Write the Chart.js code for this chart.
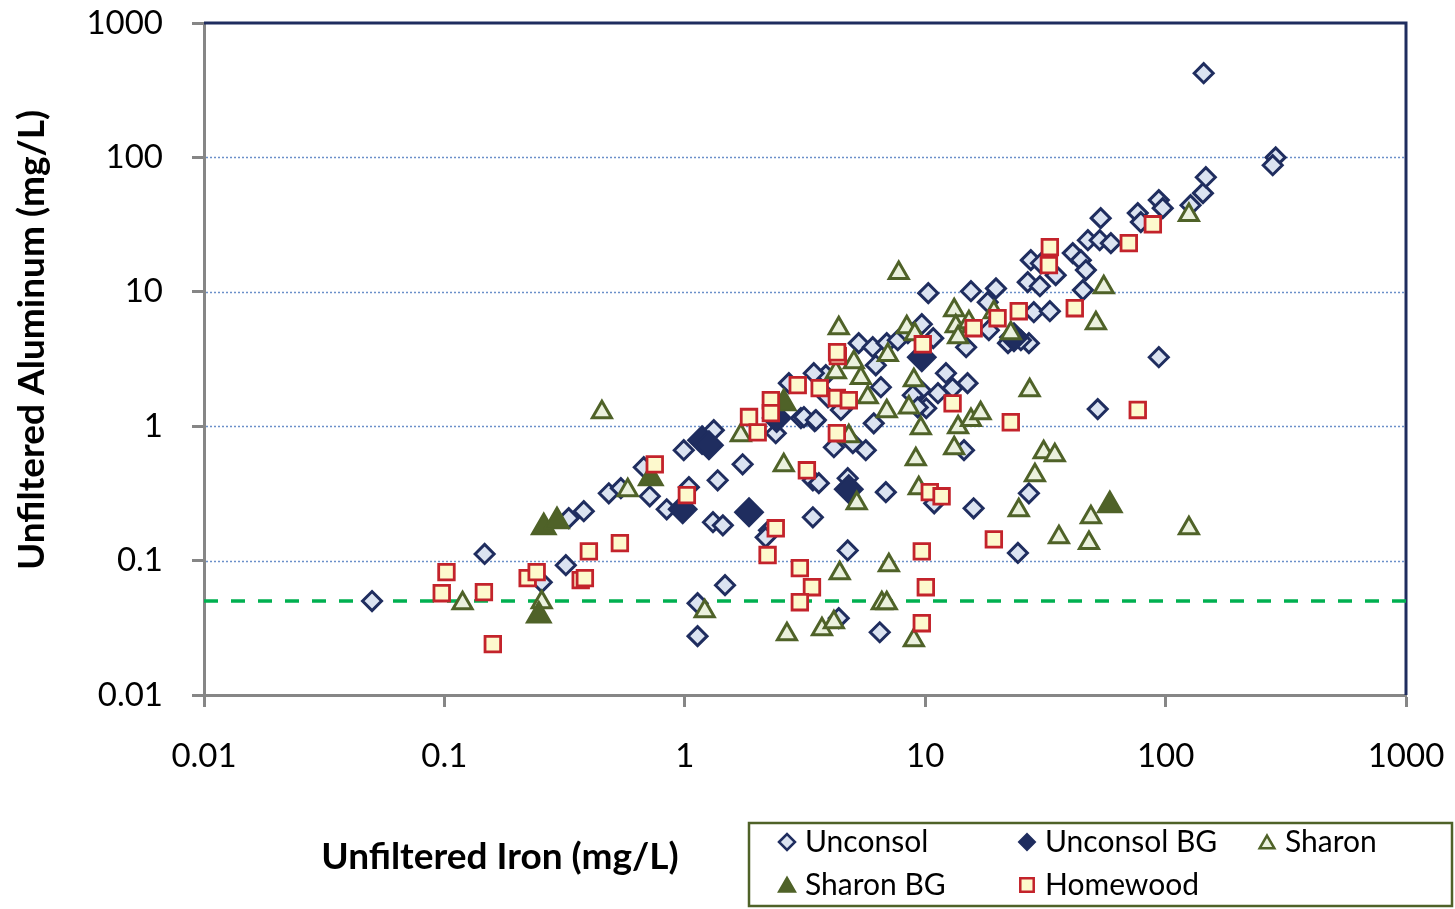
<!DOCTYPE html>
<html>
<head>
<meta charset="utf-8">
<script src="https://cdn.jsdelivr.net/npm/chart.js@4.4.1/dist/chart.umd.min.js"></script>
<style>
  html, body { margin: 0; padding: 0; background: #ffffff; }
  #wrap { width: 1455px; height: 909px; position: relative; }
</style>
</head>
<body>
<div id="wrap"><canvas id="c" width="1455" height="909"></canvas></div>
<script>
// ---------------- DATA (Unfiltered Iron mg/L, Unfiltered Aluminum mg/L) ----------------
const seriesNames = ['Unconsol', 'Unconsol BG', 'Sharon', 'Sharon BG', 'Homewood'];

const unconsol = [
  [0.050,0.050],[0.147,0.112],[0.254,0.069],[0.320,0.0924],[0.329,0.207],[0.380,0.233],
  [0.483,0.317],[0.542,0.346],[0.675,0.495],[0.715,0.301],[0.841,0.241],[0.99,0.663],
  [1.04,0.352],[1.13,0.0482],[1.13,0.0274],[1.47,0.0656],[1.32,0.934],[1.37,0.396],
  [1.74,0.521],[1.31,0.193],[1.44,0.183],[2.24,0.168],[2.17,0.149],[2.39,0.887],
  [2.71,2.09],[3.04,1.15],[3.47,1.09],[3.41,0.396],[3.61,0.377],[3.41,0.210],
  [4.76,0.410],[4.76,0.119],[4.37,0.0373],[6.47,0.0293],[6.86,0.323],[4.17,0.698],
  [5.00,0.748],[5.66,0.663],[4.54,1.36],[3.86,2.40],[3.94,1.64],[3.13,1.17],
  [3.51,1.11],[4.46,1.32],[5.29,4.15],[6.05,3.87],[6.92,4.15],[7.69,4.36],
  [8.47,4.92],[6.23,2.84],[6.54,1.95],[6.11,1.05],[9.68,5.74],[10.8,4.52],
  [10.3,9.77],[12.2,2.48],[9.59,1.85],[11.3,1.76],[13.0,1.92],[10.1,1.36],
  [8.88,1.70],[15.0,2.09],[9.31,1.38],[14.5,0.663],[10.9,0.267],[15.9,0.245],
  [27.0,0.317],[24.3,0.114],[15.5,10.1],[19.7,10.6],[18.2,8.37],[18.4,5.18],
  [22.1,4.15],[27.0,4.15],[14.8,3.87],[27.5,17.2],[30.3,16.3],[34.9,13.3],
  [26.7,11.8],[30.0,11.0],[28.3,7.05],[33.0,7.17],[41.1,19.4],[44.4,17.2],
  [46.6,14.5],[45.3,10.3],[47.5,24.2],[53.2,24.2],[59.2,23.0],[53.7,35.3],
  [76.6,38.5],[78.9,33.0],[93.7,48.1],[97.3,41.9],[127,44.1],[143,54.2],
  [147,71.2],[144,423],[287,100],[279,87.5],[93.7,3.26],[52.2,1.34],
  [25.0,4.36],[3.44,2.48]
];

const unconsolBG = [
  [1.18,0.787],[1.26,0.722],[0.98,0.241],[1.85,0.229],[4.81,0.34],[2.41,1.15],
  [9.68,3.26],[23.4,4.59]
];

const sharon = [
  [0.119,0.0482],[0.254,0.049],[0.452,1.27],[0.579,0.334],[1.21,0.042],[1.71,0.857],
  [2.58,0.513],[2.66,0.0283],[3.72,0.0309],[4.17,0.0348],[4.41,0.0806],[4.37,5.36],
  [4.25,2.52],[5.05,2.99],[5.40,2.28],[5.77,1.64],[4.81,0.843],[5.19,0.267],
  [6.60,0.0482],[6.92,0.0482],[7.06,0.0924],[6.99,3.38],[6.92,1.29],[7.76,13.8],
  [8.38,5.45],[9.05,4.84],[8.97,2.20],[8.55,1.38],[8.97,0.0256],[9.14,0.568],
  [9.40,0.346],[9.59,0.966],[13.2,7.30],[13.4,5.55],[13.7,4.59],[15.2,5.94],
  [13.7,0.983],[15.5,1.11],[17.0,1.25],[13.2,0.686],[19.3,7.05],[22.7,4.92],
  [27.2,1.85],[31.1,0.641],[34.6,0.608],[28.6,0.432],[24.5,0.237],[36.0,0.149],
  [48.9,0.210],[48.0,0.135],[51.3,5.84],[55.3,10.8],[125,37.2],[125,0.174]
];

const sharonBG = [
  [0.259,0.177],[0.294,0.196],[0.722,0.41],[0.247,0.039],[2.58,1.48],[58.6,0.258]
];

const homewood = [
  [0.102,0.082],[0.0975,0.0572],[0.146,0.0582],[0.159,0.0239],[0.222,0.074],[0.242,0.082],
  [0.369,0.0715],[0.384,0.074],[0.399,0.117],[0.537,0.135],[0.75,0.52],[1.02,0.307],
  [1.85,1.17],[2.01,0.90],[2.28,1.56],[2.28,1.25],[2.39,0.174],[2.21,0.110],
  [2.95,2.02],[3.01,0.0878],[3.38,0.0634],[3.01,0.049],[3.22,0.47],[3.64,1.92],
  [4.29,1.62],[4.33,3.32],[4.30,3.55],[4.81,1.56],[4.29,0.887],[9.68,0.117],
  [10.06,0.0634],[9.68,0.0342],[9.77,4.07],[10.45,0.323],[11.7,0.301],[13.0,1.48],
  [15.9,5.36],[20.0,6.36],[24.5,7.17],[19.3,0.144],[22.7,1.07],[32.7,15.8],
  [33.0,21.5],[41.9,7.55],[70.3,23.0],[88.5,31.8],[76.6,1.32]
];

const thresholdLine = [[0.01,0.05],[1000,0.05]];

const xTickValues = [0.01, 0.1, 1, 10, 100, 1000];
const xTickLabels = ['0.01', '0.1', '1', '10', '100', '1000'];
const yTickValues = [0.01, 0.1, 1, 10, 100, 1000];
const yTickLabels = ['0.01', '0.1', '1', '10', '100', '1000'];

const xTitle = 'Unfiltered Iron (mg/L)';
const yTitle = 'Unfiltered Aluminum (mg/L)';

// ---------------- STYLES ----------------
const NAVY = '#1f2d5f';
const OLIVE = '#4f6228';
const RED = '#c3232b';
const FONT = 'Lato, "Open Sans", "DejaVu Sans", sans-serif';

const styles = [
  { pointStyle: 'rectRot', radius: 9.5, bg: '#dbe3f1', border: NAVY, bw: 3 },
  { pointStyle: 'rectRot', radius: 14, bg: NAVY, border: NAVY, bw: 2 },
  { pointStyle: 'triangle', radius: 11, bg: '#ebf1de', border: OLIVE, bw: 3 },
  { pointStyle: 'triangle', radius: 14, bg: OLIVE, border: OLIVE, bw: 2 },
  { pointStyle: 'rect', radius: 11, bg: '#fdf9cd', border: RED, bw: 2.8 }
];

const toXY = arr => arr.map(p => ({ x: p[0], y: p[1] }));
const seriesData = [unconsol, unconsolBG, sharon, sharonBG, homewood];
const drawOrder = [5, 4, 3, 2, 1];

const datasets = seriesData.map((d, i) => ({
  label: seriesNames[i],
  data: toXY(d),
  pointStyle: styles[i].pointStyle,
  pointRadius: styles[i].radius,
  pointHoverRadius: styles[i].radius,
  pointBackgroundColor: styles[i].bg,
  pointBorderColor: styles[i].border,
  pointBorderWidth: styles[i].bw,
  backgroundColor: styles[i].bg,
  borderColor: styles[i].border,
  showLine: false,
  order: drawOrder[i]
}));

datasets.push({
  type: 'line',
  label: 'threshold',
  data: toXY(thresholdLine),
  borderColor: '#00b050',
  borderWidth: 3.5,
  borderDash: [14, 13],
  pointRadius: 0,
  showLine: true,
  fill: false,
  order: 10
});

// ---------------- PLUGIN (gridlines, frame, titles, legend) ----------------
function drawMarker(ctx, st, x, y, r) {
  ctx.save();
  ctx.fillStyle = st.bg;
  ctx.strokeStyle = st.border;
  ctx.lineWidth = Math.min(st.bw, 2.5);
  ctx.beginPath();
  if (st.pointStyle === 'rectRot') {
    ctx.moveTo(x - r, y); ctx.lineTo(x, y - r); ctx.lineTo(x + r, y); ctx.lineTo(x, y + r);
  } else if (st.pointStyle === 'triangle') {
    const h = r * Math.sqrt(3) / 2;
    ctx.moveTo(x, y - r); ctx.lineTo(x + h, y + r / 2); ctx.lineTo(x - h, y + r / 2);
  } else {
    const s = r * Math.SQRT1_2;
    ctx.rect(x - s, y - s, 2 * s, 2 * s);
  }
  ctx.closePath();
  ctx.fill();
  ctx.stroke();
  ctx.restore();
}

const decor = {
  id: 'decor',
  beforeDatasetsDraw(chart) {
    const { ctx, chartArea: a, scales: { y } } = chart;
    ctx.save();
    ctx.strokeStyle = '#6b90c9';
    ctx.lineWidth = 1.5;
    ctx.setLineDash([2, 2]);
    yTickValues.slice(1, -1).forEach(v => {
      const py = Math.round(y.getPixelForValue(v)) + 0.5;
      ctx.beginPath(); ctx.moveTo(a.left + 2, py); ctx.lineTo(a.right, py); ctx.stroke();
    });
    ctx.setLineDash([]);
    ctx.strokeStyle = NAVY;
    ctx.lineWidth = 3;
    ctx.beginPath();
    ctx.moveTo(a.left, a.top); ctx.lineTo(a.right, a.top); ctx.lineTo(a.right, a.bottom);
    ctx.stroke();
    ctx.restore();
  },
  afterDraw(chart) {
    const { ctx } = chart;
    ctx.save();
    ctx.fillStyle = '#000';
    // axis titles
    ctx.font = 'bold 37px ' + FONT;
    ctx.textAlign = 'center';
    ctx.textBaseline = 'middle';
    ctx.fillText(xTitle, 500, 857);
    ctx.save();
    ctx.translate(32, 340);
    ctx.rotate(-Math.PI / 2);
    ctx.fillText(yTitle, 0, 0);
    ctx.restore();

    // legend box
    ctx.strokeStyle = OLIVE;
    ctx.lineWidth = 2.5;
    ctx.strokeRect(749, 823, 703, 83);
    const items = [
      { i: 0, mx: 787, my: 842, r: 8 },
      { i: 1, mx: 1027, my: 842, r: 8 },
      { i: 2, mx: 1267, my: 844, r: 8.5 },
      { i: 3, mx: 787, my: 887, r: 9.5 },
      { i: 4, mx: 1027, my: 885, r: 9.5 }
    ];
    ctx.font = '30px ' + FONT;
    ctx.textAlign = 'left';
    ctx.textBaseline = 'middle';
    items.forEach(it => {
      drawMarker(ctx, styles[it.i], it.mx, it.my, it.r);
      ctx.fillStyle = '#000';
      ctx.fillText(seriesNames[it.i], it.mx + 18, it.i < 3 ? 842 : 885);
    });
    ctx.restore();
  }
};

// ---------------- CHART ----------------
const tickOpts = (labels, values, pad) => ({
  font: { family: FONT, size: 33 },
  color: '#000',
  padding: pad,
  autoSkip: false,
  maxRotation: 0,
  callback: (v) => {
    const k = values.findIndex(t => Math.abs(Math.log10(t) - Math.log10(v)) < 1e-6);
    return k >= 0 ? labels[k] : '';
  }
});

new Chart(document.getElementById('c'), {
  type: 'scatter',
  data: { datasets },
  options: {
    responsive: false,
    animation: false,
    events: [],
    layout: { padding: { top: 23, right: 49, left: 0, bottom: 0 } },
    plugins: { legend: { display: false }, tooltip: { enabled: false }, title: { display: false } },
    scales: {
      x: {
        type: 'logarithmic',
        position: 'bottom',
        min: 0.01, max: 1000,
        afterBuildTicks: s => { s.ticks = xTickValues.map(v => ({ value: v, major: true })); },
        afterFit: s => { s.height = 214; s.paddingLeft = 0; s.paddingRight = 0; },
        grid: { drawOnChartArea: false, drawTicks: true, tickLength: 12, tickWidth: 3, tickColor: '#868686' },
        border: { display: true, color: '#868686', width: 3 },
        ticks: tickOpts(xTickLabels, xTickValues, 30),
        title: { display: false }
      },
      y: {
        type: 'logarithmic',
        position: 'left',
        min: 0.01, max: 1000,
        afterBuildTicks: s => { s.ticks = yTickValues.map(v => ({ value: v, major: true })); },
        afterFit: s => { s.width = 204; s.paddingTop = 0; s.paddingBottom = 0; },
        grid: { drawOnChartArea: false, drawTicks: true, tickLength: 12, tickWidth: 3, tickColor: '#868686' },
        border: { display: true, color: '#868686', width: 3 },
        ticks: tickOpts(yTickLabels, yTickValues, 29),
        title: { display: false }
      }
    }
  },
  plugins: [decor]
});
</script>
</body>
</html>
